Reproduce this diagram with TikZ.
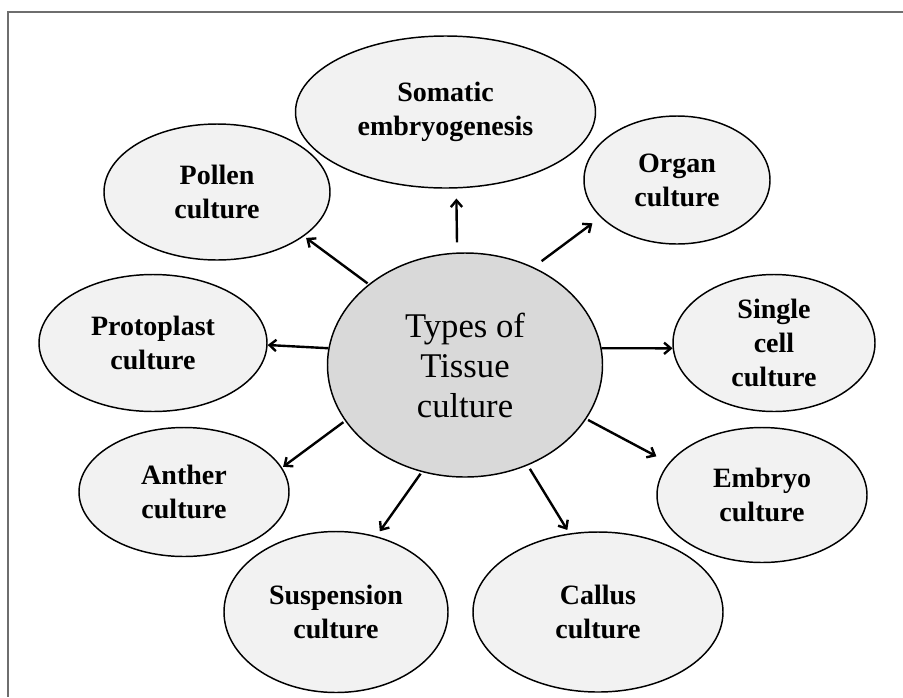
\documentclass[tikz,border=0pt]{standalone}
\usepackage{fontspec}
\setmainfont{Liberation Serif}
\usetikzlibrary{shapes.geometric,arrows.meta}
\definecolor{leafgray}{RGB}{242,242,242}
\definecolor{hubgray}{RGB}{217,217,217}
\definecolor{framegray}{RGB}{110,110,110}
\begin{document}
\begin{tikzpicture}[x=0.75pt,y=0.75pt,yscale=-1,xscale=1,
  leaf/.style={ellipse,draw=black,line width=1.1pt,fill=leafgray,inner sep=0pt,align=center,font=\fontsize{21}{25.5}\selectfont\bfseries},
  hub/.style={ellipse,draw=black,line width=1.1pt,fill=hubgray,inner sep=0pt,align=center,font=\fontsize{26}{30}\selectfont},
  spoke/.style={line width=1.8pt,-{Straight Barb[length=5pt,width=8.5pt,line width=1.8pt]}}]
\useasboundingbox (0,0) rectangle (903,697);
\draw [framegray,line width=1.1pt] (903,12) -- (8,12) -- (8,697);
% outer ring
\node [leaf,minimum width=225pt,minimum height=114pt] (somatic) at (445.5,112) {Somatic\\embryogenesis};
\node [leaf,minimum width=139.5pt,minimum height=96pt] (organ) at (677,180) {Organ\\culture};
\node [leaf,minimum width=169.5pt,minimum height=102pt] (pollen) at (217,192) {Pollen\\culture};
\node [leaf,minimum width=171pt,minimum height=102.75pt] (protoplast) at (153,343) {Protoplast\\culture};
\node [leaf,minimum width=157.5pt,minimum height=96.75pt] (anther) at (184,492) {Anther\\culture};
\node [leaf,minimum width=151.5pt,minimum height=102.75pt] (single) at (774,343) {Single\\cell\\culture};
\node [leaf,minimum width=157.5pt,minimum height=101.25pt] (embryo) at (762,495) {Embryo\\culture};
\node [leaf,minimum width=187.5pt,minimum height=120pt] (callus) at (598,612) {Callus\\culture};
\node [leaf,minimum width=168pt,minimum height=120.75pt] (suspension) at (336,612) {Suspension\\culture};
% hub
\node [hub,minimum width=206.25pt,minimum height=168pt] (ctr) at (465,365) {Types of\\Tissue\\culture};
% spokes
\draw [spoke,shorten <=7.5pt,shorten >=7.5pt] (ctr.94) -- (somatic.-82);
\draw [spoke,shorten <=7.5pt,shorten >=7.5pt] (ctr.55) -- (organ.206);
\draw [spoke,shorten <=1pt,shorten >=2pt] (ctr.140) -- (pollen.-27);
\draw [spoke] (ctr.173) -- (protoplast.-1);
\draw [spoke,shorten <=1.5pt,shorten >=1pt] (ctr.205) -- (anther.14);
\draw [spoke] (ctr.7) -- (single.183);
\draw [spoke,shorten <=1.5pt,shorten >=10.5pt] (ctr.-24) -- (embryo.161);
\draw [spoke,shorten <=3pt,shorten >=3pt] (ctr.-58) -- (callus.110);
\draw [spoke,shorten <=1.5pt,shorten >=4.5pt] (ctr.248) -- (suspension.62);
\end{tikzpicture}
\end{document}
